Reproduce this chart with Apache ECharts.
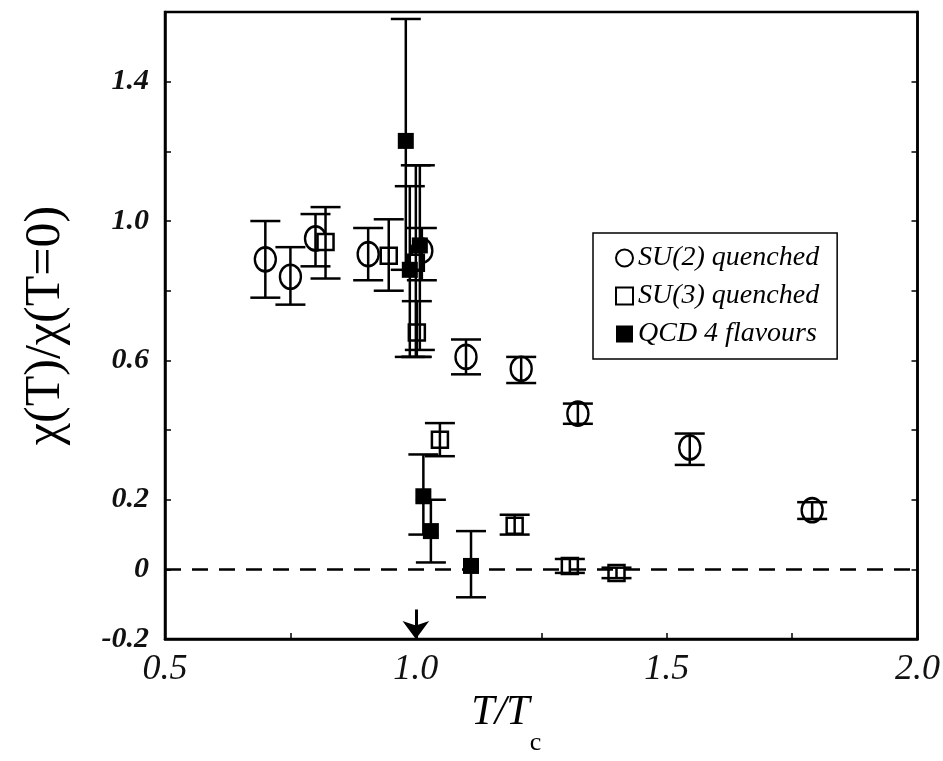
<!DOCTYPE html>
<html>
<head>
<meta charset="utf-8">
<script src="https://cdn.jsdelivr.net/npm/echarts@6/dist/echarts.min.js"></script>
<style>
html, body { margin: 0; padding: 0; background: #fff; }
#chart { width: 943px; height: 761px; }
</style>
</head>
<body>
<div id="chart"></div>
<script>
// SU(2) quenched
const su2X = [0.70, 0.75, 0.80, 0.905, 1.012, 1.10, 1.21, 1.323, 1.546, 1.79];
const su2Y = [0.89, 0.84, 0.95, 0.905, 0.915, 0.61, 0.576, 0.447, 0.35, 0.17];
const su2Lo = [0.78, 0.76, 0.87, 0.83, 0.83, 0.56, 0.535, 0.418, 0.30, 0.145];
const su2Hi = [1.00, 0.925, 1.02, 0.98, 0.98, 0.66, 0.61, 0.476, 0.39, 0.193];

// SU(3) quenched
const su3X = [0.82, 0.946, 1.0, 1.002, 1.048, 1.197, 1.307, 1.40];
const su3Y = [0.94, 0.90, 0.88, 0.68, 0.372, 0.125, 0.01, -0.01];
const su3Lo = [0.835, 0.80, 0.61, 0.61, 0.325, 0.10, -0.01, -0.025];
const su3Hi = [1.04, 1.005, 1.16, 0.77, 0.42, 0.157, 0.03, 0.005];

// QCD 4 flavours
const qcdX = [0.98, 1.008, 0.988, 1.015, 1.03, 1.11];
const qcdY = [1.23, 0.93, 0.86, 0.21, 0.11, 0.01];
const qcdLo = [0.86, 0.63, 0.61, 0.10, 0.02, -0.08];
const qcdHi = [1.58, 1.16, 1.10, 0.33, 0.20, 0.11];

const seriesNames = ['SU(2) quenched', 'SU(3) quenched', 'QCD 4 flavours'];

const xLabelValues = [0.5, 1.0, 1.5, 2.0];
const xLabelText = ['0.5', '1.0', '1.5', '2.0'];
const yLabelValues = [-0.2, 0, 0.2, 0.6, 1.0, 1.4];
const yLabelText = ['-0.2', '0', '0.2', '0.6', '1.0', '1.4'];

const tcX = 1.0;

function pickLabel(values, texts, v) {
    for (let i = 0; i < values.length; i++) {
        if (Math.abs(values[i] - v) < 1e-6) return texts[i];
    }
    return '';
}

function rows(xs, ys, los, his) {
    return xs.map((x, i) => [x, ys[i], los[i], his[i]]);
}

function errorBar(params, api) {
    const x = api.value(0);
    const top = api.coord([x, api.value(3)]);
    const bot = api.coord([x, api.value(2)]);
    const half = 15;
    const style = { stroke: '#000', lineWidth: 2.5 };
    return {
        type: 'group',
        children: [
            { type: 'line', shape: { x1: top[0], y1: top[1], x2: bot[0], y2: bot[1] }, style: style },
            { type: 'line', shape: { x1: top[0] - half, y1: top[1], x2: top[0] + half, y2: top[1] }, style: style },
            { type: 'line', shape: { x1: bot[0] - half, y1: bot[1], x2: bot[0] + half, y2: bot[1] }, style: style }
        ]
    };
}

const serif = 'Liberation Serif';

const option = {
    animation: false,
    backgroundColor: '#fff',
    grid: {
        left: 165, right: 25, top: 12, bottom: 121,
        show: true, borderColor: '#000', borderWidth: 2.5
    },
    legend: {
        orient: 'vertical',
        left: 593, top: 233,
        padding: [11, 18, 11, 22],
        itemGap: 10,
        itemWidth: 17, itemHeight: 17,
        borderColor: '#000', borderWidth: 1.5,
        textStyle: { fontFamily: serif, fontStyle: 'italic', fontSize: 28, color: '#000' },
        data: seriesNames
    },
    xAxis: {
        type: 'value',
        min: 0.5, max: 2.0, interval: 0.25,
        name: '{a|T/T}{b|c}',
        nameLocation: 'middle',
        nameGap: 50,
        nameTextStyle: {
            padding: [0, 70, 0, 0],
            rich: {
                a: { fontFamily: serif, fontStyle: 'italic', fontSize: 42, color: '#000', lineHeight: 64, verticalAlign: 'top' },
                b: { fontFamily: serif, fontSize: 26, color: '#000', lineHeight: 64, verticalAlign: 'bottom' }
            }
        },
        axisLine: { onZero: false, lineStyle: { color: '#000', width: 2.5 } },
        axisTick: { inside: true, length: 6, lineStyle: { color: '#000', width: 1.5 } },
        splitLine: { show: false },
        axisLabel: {
            margin: 12,
            fontFamily: serif, fontStyle: 'italic', fontSize: 36, color: '#111',
            formatter: v => pickLabel(xLabelValues, xLabelText, v)
        }
    },
    yAxis: [
        {
            type: 'value',
            min: -0.2, max: 1.6, interval: 0.2,
            name: 'χ(T)/χ(T=0)',
            nameLocation: 'middle',
            nameGap: 94,
            nameTextStyle: { fontFamily: serif, fontSize: 50, color: '#000' },
            axisLine: { lineStyle: { color: '#000', width: 2.5 } },
            axisTick: { inside: true, length: 6, lineStyle: { color: '#000', width: 1.5 } },
            splitLine: { show: false },
            axisLabel: {
                margin: 16,
                fontFamily: serif, fontStyle: 'italic', fontWeight: 'bold', fontSize: 30, color: '#111',
                formatter: v => pickLabel(yLabelValues, yLabelText, v)
            }
        },
        {
            type: 'value', position: 'right',
            min: -0.2, max: 1.6, interval: 0.2,
            axisLine: { show: true, lineStyle: { color: '#000', width: 2.5 } },
            axisTick: { show: true, inside: true, length: 6, lineStyle: { color: '#000', width: 1.5 } },
            axisLabel: { show: false },
            splitLine: { show: false }
        }
    ],
    series: [
        {
            type: 'custom', name: 'su2err', renderItem: errorBar, z: 3,
            data: rows(su2X, su2Y, su2Lo, su2Hi)
        },
        {
            type: 'custom', name: 'su3err', renderItem: errorBar, z: 3,
            data: rows(su3X, su3Y, su3Lo, su3Hi)
        },
        {
            type: 'custom', name: 'qcderr', renderItem: errorBar, z: 3,
            data: rows(qcdX, qcdY, qcdLo, qcdHi)
        },
        {
            type: 'scatter', name: seriesNames[0], z: 2,
            symbol: 'circle', symbolSize: [21, 24],
            itemStyle: { color: '#fff', borderColor: '#000', borderWidth: 2.5, opacity: 1 },
            data: su2X.map((x, i) => [x, su2Y[i]])
        },
        {
            type: 'scatter', name: seriesNames[1], z: 2,
            symbol: 'rect', symbolSize: 16,
            itemStyle: { color: '#fff', borderColor: '#000', borderWidth: 2.5, opacity: 1 },
            data: su3X.map((x, i) => [x, su3Y[i]])
        },
        {
            type: 'scatter', name: seriesNames[2], z: 4,
            symbol: 'rect', symbolSize: 16,
            itemStyle: { color: '#000', opacity: 1 },
            data: qcdX.map((x, i) => [x, qcdY[i]]),
            markLine: {
                silent: true,
                animation: false,
                symbol: 'none',
                label: { show: false },
                lineStyle: { color: '#000', width: 2.5, type: [16, 11] },
                data: [
                    { yAxis: 0 },
                    [
                        { coord: [tcX, -0.115], symbol: 'none', lineStyle: { type: 'solid', width: 3 } },
                        { coord: [tcX, -0.2], symbol: 'arrow', symbolSize: [20, 18] }
                    ]
                ]
            }
        }
    ]
};

const chart = echarts.init(document.getElementById('chart'));
chart.setOption(option);
</script>
</body>
</html>
